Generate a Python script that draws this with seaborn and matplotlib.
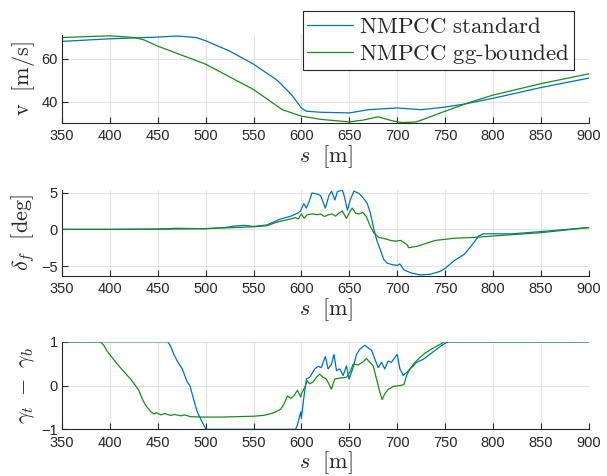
import numpy as np
import pandas as pd
import seaborn as sns
from matplotlib import pyplot as plt

# --- data ---
# speed v [m/s]
s_v_std = [350, 400, 450, 470, 490, 500, 525, 550, 575, 590, 600, 605, 620, 650, 670, 700, 725, 750, 770, 800, 850, 900]
v_std = [68.0, 69.2, 70.0, 70.5, 69.8, 68.3, 63.5, 57.4, 49.8, 43.0, 37.0, 35.5, 35.0, 34.7, 36.2, 37.0, 36.2, 37.4, 38.8, 41.5, 46.5, 50.9]
s_v_gg = [350, 400, 425, 435, 450, 500, 550, 580, 600, 620, 650, 665, 680, 695, 705, 720, 750, 775, 800, 850, 900]
v_gg = [69.8, 70.6, 69.8, 68.8, 65.8, 57.4, 45.6, 36.2, 33.2, 31.7, 30.5, 31.4, 32.9, 31.0, 30.2, 30.5, 35.5, 39.5, 43.0, 48.3, 52.9]

# steering angle delta_f [deg]
s_d_std = [350, 400, 450, 470, 480, 500, 520, 530, 540, 550, 564, 578, 589, 596, 599, 602.6, 605, 608, 611, 616.6,
           620, 625, 628.7, 631.5, 635, 637.4, 642.7, 645, 648, 651, 654.8, 660, 665, 668.8, 672, 675.7, 679,
           682.7, 686, 689.6, 694.8, 700, 702.8, 707, 714, 724, 734.4, 740, 745, 750, 760, 770, 780, 785, 790,
           800, 820, 850, 900]
d_std = [0.0, 0.0, 0.05, 0.15, 0.12, 0.1, 0.25, 0.45, 0.55, 0.4, 0.6, 1.4, 1.8, 2.2, 2.5, 3.5, 2.9, 3.75, 4.95, 4.8,
         4.6, 2.9, 4.6, 5.2, 4.0, 5.1, 5.4, 4.4, 2.6, 4.0, 5.2, 4.9, 4.2, 3.5, 2.2, 0.0, -1.6,
         -2.9, -4.1, -4.6, -4.8, -4.9, -4.7, -5.5, -5.9, -6.2, -6.1, -5.9, -5.7, -5.3, -4.2, -3.4, -1.8, -0.9, -0.6,
         -0.6, -0.6, -0.3, 0.25]
s_d_gg = [350, 400, 450, 500, 530, 550, 564, 574.8, 585, 594, 596.7, 600, 603, 606, 611, 616.6, 620, 624, 628.7,
          632, 635.7, 639, 642.7, 647, 650.7, 653, 656.6, 660, 664, 667.7, 672, 675.7, 680.9, 688, 693, 698,
          703.5, 710, 712, 715.7, 721, 728, 734.9, 740, 760, 780, 800, 850, 900]
d_gg = [0.0, 0.0, 0.02, 0.1, 0.25, 0.35, 0.5, 1.0, 1.3, 1.6, 1.4, 2.1, 1.5, 2.0, 2.1, 2.0, 2.1, 1.75, 2.0,
        2.1, 1.8, 2.2, 2.5, 1.5, 2.4, 2.9, 2.2, 2.1, 2.3, 1.75, 0.4, -0.5, -1.1, -1.3, -1.5, -1.6,
        -1.5, -2.05, -2.5, -2.4, -2.3, -2.0, -1.7, -1.5, -1.2, -1.1, -0.9, -0.45, 0.25]

# traction/braking usage gamma_t - gamma_b
s_g_std = [350, 460.6, 463.4, 466.9, 470.4, 475.6, 480.8, 483.6, 487.8, 491.3, 496.5, 500, 501.7, 594, 595.8,
           599.3, 600, 602.4, 605.2, 608.7, 614, 617.4, 620.9, 622.6, 625, 627.9, 631.4, 634, 636.6, 640, 643.6,
           647, 649.8, 654, 657.5, 661, 666.2, 669.7, 673.2, 676.7, 680.2, 683.6, 687, 690.6, 694, 697.6, 700,
           702.8, 706.3, 709.8, 715, 720.2, 727.2, 734, 741.1, 748, 753.3, 900]
g_std = [1.0, 1.0, 0.9, 0.71, 0.56, 0.38, 0.08, 0.0, -0.34, -0.6, -0.84, -0.98, -1.0, -1.0, -0.9,
         -0.6, -0.75, -0.3, 0.15, 0.19, 0.38, 0.44, 0.41, 0.53, 0.66, 0.38, 0.49, 0.71, 0.34, 0.38, 0.23,
         0.45, 0.15, 0.41, 0.71, 0.83, 0.92, 0.86, 0.81, 0.6, 0.41, 0.53, 0.38, 0.56, 0.53, 0.64, 0.71,
         0.38, 0.23, 0.3, 0.41, 0.53, 0.6, 0.71, 0.83, 0.94, 1.0, 1.0]
s_g_gg = [350, 390.2, 393.7, 397, 402.4, 407.7, 414.6, 421.6, 426.8, 430.3, 433.8, 437.3, 442.5, 446, 449,
          453, 457, 463.4, 468, 473.9, 478, 484.3, 498.3, 515.7, 533, 550.5, 561, 571.4, 578.4, 582, 585.4,
          589, 592.3, 595.8, 599.3, 600, 603.5, 606, 608.7, 612.2, 615.7, 619, 622.6, 626, 631.4, 634.8, 640,
          647, 650.5, 654, 659.2, 664.4, 667.9, 671.4, 674.9, 678.4, 681.9, 684.3, 687, 690.6, 695.8, 702.8,
          707, 709.8, 713.2, 718.5, 723.7, 729, 734, 741.1, 746.3, 748.8, 900]
g_gg = [1.0, 1.0, 0.92, 0.79, 0.64, 0.49, 0.32, 0.15, 0.0, -0.11, -0.3, -0.45, -0.59, -0.65, -0.62,
        -0.67, -0.64, -0.68, -0.66, -0.69, -0.67, -0.71, -0.72, -0.72, -0.71, -0.70, -0.68, -0.62, -0.54, -0.41, -0.24,
        -0.29, -0.23, -0.11, -0.26, -0.19, -0.04, 0.11, 0.04, 0.08, 0.19, 0.26, 0.19, 0.15, -0.08, 0.15, 0.17,
        0.19, 0.3, 0.49, 0.47, 0.54, 0.62, 0.53, 0.45, 0.15, -0.15, -0.32, -0.19, -0.09, -0.02, 0.0,
        0.02, 0.23, 0.38, 0.53, 0.64, 0.74, 0.81, 0.9, 0.96, 1.0, 1.0]

labels = ['NMPCC standard', 'NMPCC gg-bounded']
c_std = '#0072BD'
c_gg = '#1b8a1b'

sns.set_theme(style="whitegrid")
plt.rcParams['font.family'] = ['Liberation Sans', 'DejaVu Sans']
plt.rcParams['mathtext.fontset'] = 'cm'

fig = plt.figure(figsize=(6.07, 4.76), dpi=100)
W = 0.868
ax1 = fig.add_axes([0.102, 0.7416, W, 0.185])
ax2 = fig.add_axes([0.102, 0.4208, W, 0.1807])
ax3 = fig.add_axes([0.102, 0.098, W, 0.184])

panels = [
    (ax1, s_v_std, v_std, s_v_gg, v_gg, (30, 71), [40, 60], r'$\mathrm{v\ \ [m/s]}$'),
    (ax2, s_d_std, d_std, s_d_gg, d_gg, (-6.3, 5.4), [-5, 0, 5], r'$\delta_f\ \ [\mathrm{deg}]$'),
    (ax3, s_g_std, g_std, s_g_gg, g_gg, (-1, 1), [-1, 0, 1], r'$\gamma_t\ -\ \gamma_b$'),
]

for ax, xs, ys, xg, yg, ylim, yticks, ylab in panels:
    sns.lineplot(x=xs, y=ys, ax=ax, color=c_std, linewidth=0.9, estimator=None, label=labels[0])
    sns.lineplot(x=xg, y=yg, ax=ax, color=c_gg, linewidth=0.9, estimator=None, label=labels[1])
    ax.set_xlim(350, 900)
    ax.set_ylim(*ylim)
    ax.set_xticks(np.arange(350, 901, 50))
    ax.set_yticks(yticks)
    ax.grid(True, color='#e3e3e3', linewidth=0.8)
    for side in ['top', 'right']:
        ax.spines[side].set_visible(False)
    for side in ['left', 'bottom']:
        ax.spines[side].set_color('#262626')
        ax.spines[side].set_linewidth(0.8)
    ax.tick_params(direction='in', length=4, width=0.8, labelsize=10.5, colors='#262626',
                   left=True, bottom=True)
    ax.tick_params(axis='x', pad=4.5)
    ax.tick_params(axis='y', pad=3)
    ax.set_xlabel(r'$s\ \ [\mathrm{m}]$', fontsize=16, labelpad=0)
    ax.set_ylabel(ylab, fontsize=16, labelpad=3)
    ax.legend_.remove()
    ax.set_facecolor('white')

h, l = ax1.get_legend_handles_labels()
leg = fig.legend(h, [r'$\mathrm{NMPCC\ standard}$', r'$\mathrm{NMPCC\ gg\text{-}bounded}$'],
                 loc='upper right', bbox_to_anchor=(0.946, 0.9775), fontsize=16.5,
                 fancybox=False, framealpha=1, edgecolor='#262626', handlelength=2.0,
                 handletextpad=0.25, borderpad=0.2, labelspacing=0.15, borderaxespad=0)
leg.get_frame().set_linewidth(0.8)

fig.savefig('out.png', dpi=100, facecolor='white')
